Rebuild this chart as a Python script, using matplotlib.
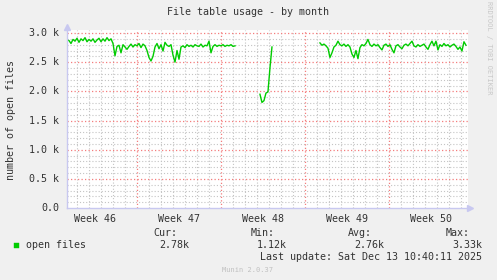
import numpy as np
import matplotlib
matplotlib.use("Agg")
import matplotlib.pyplot as plt
from matplotlib.patches import Rectangle

# open files, samples every 4 hours (1/6 day); x in days from left edge of graph
step = 1.0 / 6
seg1_start = 0.0
seg1 = [2.88, 2.87, 2.82, 2.89, 2.86, 2.91, 2.84, 2.90, 2.87, 2.92, 2.85, 2.89,
        2.86, 2.90, 2.84, 2.88, 2.91, 2.85, 2.90, 2.86, 2.92, 2.87, 2.90, 2.82,
        2.61, 2.77, 2.79, 2.66, 2.80, 2.76, 2.72, 2.77, 2.81, 2.76, 2.80, 2.78,
        2.82, 2.75, 2.81, 2.78, 2.70, 2.58, 2.52, 2.60, 2.76, 2.82, 2.73, 2.80,
        2.69, 2.84, 2.79, 2.77, 2.80, 2.62, 2.50, 2.70, 2.55, 2.76, 2.78, 2.75,
        2.80, 2.77, 2.79, 2.76, 2.80, 2.78, 2.77, 2.81, 2.76, 2.79, 2.78, 2.86,
        2.66, 2.77, 2.80, 2.77, 2.79, 2.78, 2.80, 2.77, 2.79, 2.78, 2.80, 2.77,
        2.78]
seg2_start = 16.08
seg2 = [1.95, 1.81, 1.84, 1.97, 1.99, 2.40, 2.76]
seg3_start = 21.08
seg3 = [2.83, 2.79, 2.81, 2.78, 2.74, 2.58, 2.66, 2.76, 2.79, 2.86, 2.80, 2.78,
        2.81, 2.77, 2.80, 2.76, 2.64, 2.58, 2.70, 2.56, 2.75, 2.80, 2.78, 2.82,
        2.89, 2.80, 2.77, 2.81, 2.78, 2.80, 2.75, 2.71, 2.79, 2.81, 2.77, 2.80,
        2.72, 2.66, 2.78, 2.80, 2.76, 2.73, 2.79, 2.81, 2.78, 2.82, 2.86, 2.78,
        2.76, 2.80, 2.77, 2.79, 2.81, 2.76, 2.72, 2.80, 2.86, 2.78, 2.86, 2.71,
        2.80, 2.77, 2.82, 2.78, 2.80, 2.76, 2.79, 2.81, 2.77, 2.72, 2.76, 2.69,
        2.85, 2.79]

week_labels = ["Week 46", "Week 47", "Week 48", "Week 49", "Week 50"]
week_starts = [5.81, 12.81, 19.81, 26.81]
ytick_vals = [0.0, 0.5, 1.0, 1.5, 2.0, 2.5, 3.0]
ytick_labels = ["0.0", "0.5 k", "1.0 k", "1.5 k", "2.0 k", "2.5 k", "3.0 k"]

stats_names = ["Cur:", "Min:", "Avg:", "Max:"]
stats_vals = ["2.78k", "1.12k", "2.76k", "3.33k"]

W, H = 497, 280
FONT = "DejaVu Sans Mono"
TXT = "#333333"
MGRID = "#F47C7C"
GRID = "#C4C4C4"
AXIS = "#C8C8F0"
GREEN = "#00CC00"

fig = plt.figure(figsize=(W / 100, H / 100), dpi=100, facecolor="#F0F0F0")
x0, x1, ytop, ybot = 67, 468, 30, 208
ax = fig.add_axes([x0 / W, 1 - ybot / H, (x1 - x0) / W, (ybot - ytop) / H])
ax.set_facecolor("white")
xmax = (x1 - x0) / 12.0
ymax = 3.0 + 3.0 / 58.33
ax.set_xlim(0, xmax)
ax.set_ylim(0, ymax)

# grid
dot = (0, (1, 1.8))
for d in np.arange(week_starts[0] - 5, xmax, 1.0):
    if not any(abs(d - w) < 0.01 for w in week_starts):
        ax.axvline(d, color=GRID, lw=0.8, ls=dot, zorder=1)
for w in week_starts:
    ax.axvline(w, color=MGRID, lw=0.9, ls=dot, zorder=1.5)
for v in np.arange(0.1, ymax, 0.1):
    if abs(v * 2 - round(v * 2)) > 0.01:
        ax.axhline(v, color=GRID, lw=0.8, ls=dot, zorder=1)
for v in ytick_vals[1:]:
    ax.axhline(v, color=MGRID, lw=0.9, ls=dot, zorder=1.5)

for start, vals in [(seg1_start, seg1), (seg2_start, seg2), (seg3_start, seg3)]:
    t = start + np.arange(len(vals)) * step
    ax.plot(t, vals, color=GREEN, lw=1.0, zorder=3)

for s in ax.spines.values():
    s.set_visible(False)
ax.set_xticks([])
ax.set_yticks([])

# axes with arrows
axl = dict(color=AXIS, lw=1.0, zorder=4, clip_on=False)
ax.plot([0, 0], [0, ymax + 0.04], **axl)
ax.plot([0, xmax + 0.1], [0, 0], **axl)
ax.plot([0], [ymax + 0.06], marker="^", ms=4, color=AXIS, clip_on=False, zorder=4)
ax.plot([xmax + 0.2], [0], marker=">", ms=4, color=AXIS, clip_on=False, zorder=4)

def px(x, y):
    return x / W, 1 - y / H

# y tick labels
for v, lab in zip(ytick_vals, ytick_labels):
    yy = ybot - v * 58.33
    fig.text(*px(59, yy), lab, ha="right", va="center", family=FONT, fontsize=7.2, color=TXT)

# week labels
for i, lab in enumerate(week_labels):
    c = week_starts[0] - 3.5 + 7 * i
    ax.text(c, -0.06, lab, transform=ax.get_xaxis_transform(), ha="center", va="center",
            family=FONT, fontsize=7.2, color=TXT)

fig.text(*px(248, 12), "File table usage - by month", ha="center", va="center",
         family=FONT, fontsize=7.2, color=TXT)
fig.text(*px(11, 120), "number of open files", ha="center", va="center", rotation=90,
         family=FONT, fontsize=7.2, color=TXT)
fig.text(*px(489, 48), "RRDTOOL / TOBI OETIKER", ha="center", va="center", rotation=270,
         family=FONT, fontsize=5, color="#C8C8C8")

# legend
fig.patches.append(Rectangle(px(14, 248), 5 / W, 5 / H, transform=fig.transFigure,
                             facecolor=GREEN, edgecolor=GREEN, lw=0.3))
fig.text(*px(26, 245), "open files", ha="left", va="center", family=FONT, fontsize=7.2, color=TXT)
for name, val, xr in zip(stats_names, stats_vals, [177, 275, 372, 470]):
    fig.text(*px(xr, 233), name, ha="right", va="center", family=FONT, fontsize=7.2, color=TXT)
    fig.text(*px(xr + 12, 245), val, ha="right", va="center", family=FONT, fontsize=7.2, color=TXT)
fig.text(*px(482, 257), "Last update: Sat Dec 13 10:40:11 2025", ha="right", va="center",
         family=FONT, fontsize=7.2, color=TXT)
fig.text(*px(248, 270), "Munin 2.0.37", ha="center", va="center", family=FONT,
         fontsize=5, color="#C0C0C0")

fig.savefig("out.png", dpi=100, facecolor=fig.get_facecolor())
